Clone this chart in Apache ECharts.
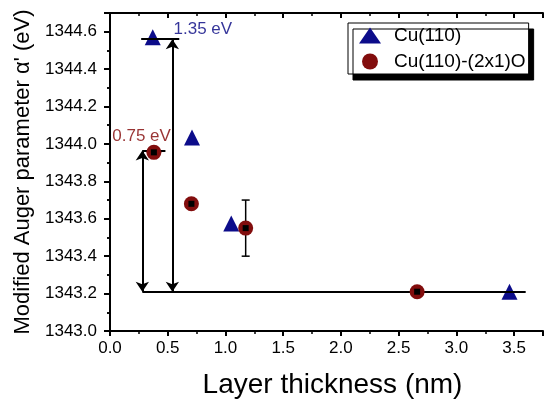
<!DOCTYPE html>
<html>
<head>
<meta charset="utf-8">
<script src="https://cdn.jsdelivr.net/npm/echarts@6/dist/echarts.min.js"></script>
<style>
  html, body { margin: 0; padding: 0; background: #fff; }
  #chart { width: 545px; height: 401px; }
</style>
</head>
<body>
<div id="chart"></div>
<script>
// data
const cuClean = [[0.37, 1344.57], [0.71, 1344.035], [1.05, 1343.575], [3.46, 1343.21]]
const cuOxide = [[0.38, 1343.955], [0.705, 1343.68], [1.175, 1343.55], [2.66, 1343.21]]
const oxideError = [[1.175, 1343.40, 1343.70]]

// guide lines and energy shifts
const baseLine = [[0.28, 1343.21], [3.6, 1343.21]]
const shortBars = [
  [[0.28, 1343.965], [0.48, 1343.965]],
  [[0.27, 1344.56], [0.60, 1344.56]]
]
const arrows = [
  [[0.28, 1343.965], [0.28, 1343.21]],
  [[0.54, 1344.56], [0.54, 1343.21]]
]
const shiftLabels = [
  { value: [0.55, 1344.615], text: "1.35 eV", color: "#000080" },
  { value: [0.02, 1344.04], text: "0.75 eV", color: "#800000" }
]

const xRange = [0, 3.75]
const yRange = [1343.0, 1344.7]

const chart = echarts.init(document.getElementById("chart"), null, { renderer: "canvas" })

const font = "Liberation Sans, Arial, sans-serif"
const axisLine = { show: true, lineStyle: { color: "#000", width: 2 } }

const option = {
  backgroundColor: "#fff",
  animation: false,
  textStyle: { fontFamily: font },
  grid: { left: 110, top: 13, right: 2, bottom: 70, outerBoundsMode: "none", containLabel: false },
  legend: {
    orient: "vertical",
    left: 348,
    top: 23,
    padding: [3, 3, 3, 11],
    itemWidth: 22,
    itemHeight: 16,
    itemGap: 7,
    backgroundColor: "#fff",
    borderColor: "#000",
    borderWidth: 1,
    shadowColor: "#000",
    shadowBlur: 0,
    shadowOffsetX: 5,
    shadowOffsetY: 6,
    textStyle: { fontSize: 19, color: "#000", padding: [0, 0, 0, 8] },
    data: [
      { name: "Cu(110)", icon: "triangle" },
      { name: "Cu(110)-(2x1)O", icon: "circle" }
    ]
  },
  xAxis: [
    {
      type: "value",
      min: xRange[0],
      max: xRange[1],
      interval: 0.5,
      name: "Layer thickness (nm)",
      nameLocation: "middle",
      nameGap: 40,
      nameTextStyle: { fontSize: 28, color: "#000", padding: [0, 0, 0, 12] },
      axisLine: axisLine,
      axisTick: { show: true, inside: false, length: 5, lineStyle: { width: 2, color: "#000" } },
      minorTick: { show: true, splitNumber: 2, length: 3, lineStyle: { width: 1.5, color: "#000" } },
      splitLine: { show: false },
      axisLabel: {
        fontSize: 17,
        color: "#000",
        margin: 9,
        showMaxLabel: false,
        formatter: (v) => v.toFixed(1)
      }
    },
    {
      type: "value",
      position: "top",
      min: xRange[0],
      max: xRange[1],
      interval: 0.5,
      axisLine: axisLine,
      axisTick: { show: true, inside: true, length: 5, lineStyle: { width: 2, color: "#000" } },
      minorTick: { show: true, splitNumber: 2, length: 3, lineStyle: { width: 1.5, color: "#000" } },
      splitLine: { show: false },
      axisLabel: { show: false }
    }
  ],
  yAxis: [
    {
      type: "value",
      min: yRange[0],
      max: yRange[1],
      interval: 0.2,
      name: "Modified Auger parameter α' (eV)",
      nameLocation: "middle",
      nameGap: 68,
      nameTextStyle: { fontSize: 22, color: "#000" },
      axisLine: axisLine,
      axisTick: { show: true, inside: false, length: 6, lineStyle: { width: 2, color: "#000" } },
      minorTick: { show: true, splitNumber: 2, length: 3, lineStyle: { width: 1.5, color: "#000" } },
      splitLine: { show: false },
      axisLabel: {
        fontSize: 17,
        color: "#000",
        margin: 13,
        showMaxLabel: false,
        formatter: (v) => v.toFixed(1)
      }
    },
    {
      type: "value",
      position: "right",
      min: yRange[0],
      max: yRange[1],
      interval: 0.2,
      axisLine: axisLine,
      axisTick: { show: true, inside: true, length: 5, lineStyle: { width: 2, color: "#000" } },
      minorTick: { show: true, splitNumber: 2, length: 3, lineStyle: { width: 1.5, color: "#000" } },
      splitLine: { show: false },
      axisLabel: { show: false }
    }
  ],
  series: [
    {
      name: "guides",
      type: "line",
      data: [],
      silent: true,
      markLine: {
        silent: true,
        animation: false,
        symbol: ["none", "none"],
        label: { show: false },
        lineStyle: { type: "solid", color: "#000", width: 2 },
        data: [baseLine, ...shortBars].map((seg) => [{ coord: seg[0] }, { coord: seg[1] }])
      }
    },
    {
      name: "arrows",
      type: "line",
      data: [],
      silent: true,
      markLine: {
        silent: true,
        animation: false,
        symbol: ["arrow", "arrow"],
        symbolSize: [10, 10],
        label: { show: false },
        lineStyle: { type: "solid", color: "#000", width: 2 },
        data: arrows.map((seg) => [{ coord: seg[0] }, { coord: seg[1] }])
      }
    },
    {
      name: "Cu(110)-(2x1)O error",
      type: "custom",
      silent: true,
      z: 3,
      data: oxideError,
      renderItem: (params, api) => {
        const x = api.value(0)
        const lo = api.coord([x, api.value(1)])
        const hi = api.coord([x, api.value(2)])
        const w = 4
        const style = { stroke: "#000", lineWidth: 1.5 }
        return {
          type: "group",
          children: [
            { type: "line", shape: { x1: lo[0], y1: lo[1], x2: hi[0], y2: hi[1] }, style },
            { type: "line", shape: { x1: lo[0] - w, y1: lo[1], x2: lo[0] + w, y2: lo[1] }, style },
            { type: "line", shape: { x1: hi[0] - w, y1: hi[1], x2: hi[0] + w, y2: hi[1] }, style }
          ]
        }
      }
    },
    {
      name: "Cu(110)",
      type: "scatter",
      symbol: "triangle",
      symbolSize: 16,
      z: 4,
      itemStyle: { color: "#0c0c8a", opacity: 1 },
      data: cuClean
    },
    {
      name: "Cu(110)-(2x1)O",
      type: "scatter",
      symbol: "circle",
      symbolSize: 15,
      z: 5,
      itemStyle: { color: "#820d0d", opacity: 1 },
      data: cuOxide
    },
    {
      name: "oxide centre",
      type: "scatter",
      symbol: "rect",
      symbolSize: 6,
      z: 6,
      silent: true,
      itemStyle: { color: "#000", opacity: 1 },
      data: cuOxide
    },
    {
      name: "shift labels",
      type: "scatter",
      symbolSize: 0,
      silent: true,
      z: 7,
      data: shiftLabels.map((d) => ({
        value: d.value,
        label: {
          show: true,
          position: "right",
          distance: 0,
          formatter: d.text,
          fontSize: 17,
          color: d.color
        }
      }))
    }
  ]
}

chart.setOption(option)
</script>
</body>
</html>
